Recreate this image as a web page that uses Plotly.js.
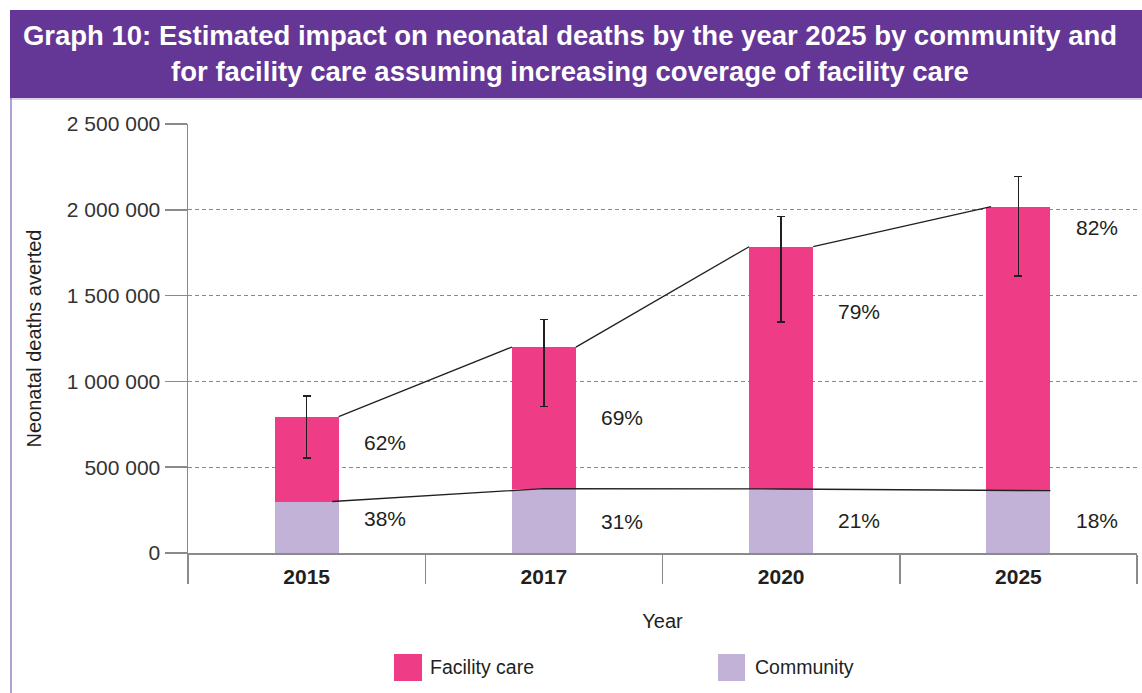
<!DOCTYPE html>
<html>
<head>
<meta charset="utf-8">
<script src="https://cdn.plot.ly/plotly-3.0.1.min.js"></script>
<style>
  html, body { margin: 0; padding: 0; background: #ffffff; }
  #chart { width: 1142px; height: 693px; }
</style>
</head>
<body>
<div id="chart"></div>
<script>
// ---- Data ----
const years = ['2015', '2017', '2020', '2025'];
const community = [300000, 375000, 373000, 363000];
const facility = [495000, 825000, 1412000, 1655000];
const errHigh = [915000, 1360000, 1962000, 2193000];
const errLow = [554000, 855000, 1346000, 1614000];
const yTicks = [0, 500000, 1000000, 1500000, 2000000, 2500000];

// ---- Styling ----
const FONT = '"Liberation Sans", Arial, Helvetica, sans-serif';
const INK = '#231f20';
const AXIS = '#8a8a8a';
const PINK = '#ee3c87';
const LILAC = '#c2b2d7';
const PURPLE = '#643696';

const W = 1142, H = 693;
const M = { l: 188, r: 5, t: 124, b: 140 };
const PW = W - M.l - M.r, PH = H - M.t - M.b;
const px = v => (v - M.l) / PW;          // pixel x -> paper
const py = v => (H - M.b - v) / PH;      // pixel y -> paper

const idx = years.map((_, i) => i);
const totals = idx.map(i => community[i] + facility[i]);
const barW = 0.27;
const hw = barW / 2;

// upper connector: edge of one bar to edge of the next at the totals
const upX = [], upY = [];
for (let i = 0; i < idx.length - 1; i++) {
  upX.push(i + hw, i + 1 - hw + (i === idx.length - 2 ? 0.02 : 0), null);
  upY.push(totals[i], totals[i + 1], null);
}
// lower connector along community tops
const lowX = idx.map((i, k) => k === 0 ? i + hw * 0.8 : (k === idx.length - 1 ? i + hw : i));
const lowY = community.slice();

const traces = [
  {
    type: 'bar', name: 'Community', x: idx, y: community, width: barW,
    marker: { color: LILAC, line: { width: 0 } }, hoverinfo: 'y'
  },
  {
    type: 'bar', name: 'Facility care', x: idx, y: facility, width: barW,
    marker: { color: PINK, line: { width: 0 } }, hoverinfo: 'y',
    error_y: {
      type: 'data', symmetric: false,
      array: idx.map(i => errHigh[i] - totals[i]),
      arrayminus: idx.map(i => totals[i] - errLow[i]),
      color: INK, thickness: 1.5, width: 4
    }
  },
  {
    type: 'scatter', mode: 'lines', x: upX, y: upY, showlegend: false,
    line: { color: INK, width: 1.3 }, hoverinfo: 'skip', connectgaps: false
  },
  {
    type: 'scatter', mode: 'lines', x: lowX, y: lowY, showlegend: false,
    line: { color: INK, width: 1.3 }, hoverinfo: 'skip'
  }
];

const annotations = [];
const facLabelY = [643000, 788000, 1406000, 1896000];
const comLabelY = [200000, 185000, 192000, 192000];
idx.forEach(i => {
  annotations.push({
    xref: 'x', yref: 'y', x: i + 0.33, y: facLabelY[i],
    text: Math.round(facility[i] / totals[i] * 100) + '%',
    showarrow: false, xanchor: 'center', yanchor: 'middle',
    font: { family: FONT, size: 21, color: INK }
  });
  annotations.push({
    xref: 'x', yref: 'y', x: i + 0.33, y: comLabelY[i],
    text: Math.round(community[i] / totals[i] * 100) + '%',
    showarrow: false, xanchor: 'center', yanchor: 'middle',
    font: { family: FONT, size: 21, color: INK }
  });
});
// custom legend labels
annotations.push({
  xref: 'paper', yref: 'paper', x: px(428), y: py(667), text: 'Facility care',
  showarrow: false, xanchor: 'left', yanchor: 'middle',
  font: { family: FONT, size: 19.5, color: INK }
});
annotations.push({
  xref: 'paper', yref: 'paper', x: px(753), y: py(667), text: 'Community',
  showarrow: false, xanchor: 'left', yanchor: 'middle',
  font: { family: FONT, size: 19.5, color: INK }
});

const shapes = [
  // title banner
  { type: 'rect', xref: 'paper', yref: 'paper', layer: 'below',
    x0: px(10), x1: px(1142), y0: py(98), y1: py(10),
    fillcolor: PURPLE, line: { width: 0 } },
  // thin light line under banner
  { type: 'line', xref: 'paper', yref: 'paper', layer: 'below',
    x0: px(10), x1: px(1142), y0: py(99), y1: py(99),
    line: { color: '#b9a6d6', width: 1 } },
  // left border
  { type: 'line', xref: 'paper', yref: 'paper', layer: 'below',
    x0: px(11), x1: px(11), y0: py(98), y1: py(693),
    line: { color: '#9a80c4', width: 1.5 } },
  // legend swatches
  { type: 'rect', xref: 'paper', yref: 'paper',
    x0: px(394), x1: px(422), y0: py(681), y1: py(654),
    fillcolor: PINK, line: { width: 0 } },
  { type: 'rect', xref: 'paper', yref: 'paper',
    x0: px(718), x1: px(745), y0: py(681), y1: py(654),
    fillcolor: LILAC, line: { width: 0 } }
];

const layout = {
  width: W, height: H,
  margin: M,
  paper_bgcolor: '#ffffff', plot_bgcolor: '#ffffff',
  separators: '. ',
  showlegend: false,
  barmode: 'stack',
  font: { family: FONT, color: INK },
  title: {
    text: 'Graph 10: Estimated impact on neonatal deaths by the year 2025 by community and<br>for facility care assuming increasing coverage of facility care',
    x: 570 / W, xref: 'container', xanchor: 'center',
    y: 1 - 45 / H, yref: 'container', yanchor: 'middle',
    font: { family: FONT, size: 27.5, color: '#ffffff', weight: 'bold' }
  },
  xaxis: {
    type: 'linear', range: [-0.5, years.length - 0.5],
    tickvals: idx, ticktext: years, ticks: '',
    ticklabelstandoff: 4,
    tickfont: { family: FONT, size: 21, color: INK, weight: 'bold' },
    minor: {
      tickmode: 'array',
      tickvals: [-0.5].concat(idx.map(i => i + 0.5)),
      ticks: 'outside', ticklen: 29, tickwidth: 1.5, tickcolor: AXIS,
      showgrid: false
    },
    showline: true, linecolor: AXIS, linewidth: 1.5,
    showgrid: false, zeroline: false,
    title: { text: 'Year', standoff: 27, font: { family: FONT, size: 20, color: INK } }
  },
  yaxis: {
    range: [0, 2500000], tickvals: yTicks, tickformat: ',',
    ticks: 'outside', ticklen: 22, tickwidth: 1.5, tickcolor: AXIS,
    showline: true, linecolor: AXIS, linewidth: 1.5,
    showgrid: true, gridcolor: AXIS, gridwidth: 1, griddash: '4px,3px',
    zeroline: false,
    tickfont: { family: FONT, size: 21, color: '#333333' },
    title: { text: 'Neonatal deaths averted', standoff: 20, font: { family: FONT, size: 20, color: INK } }
  },
  shapes: shapes,
  annotations: annotations
};

Plotly.newPlot('chart', traces, layout, { displayModeBar: false, staticPlot: true });
</script>
</body>
</html>
